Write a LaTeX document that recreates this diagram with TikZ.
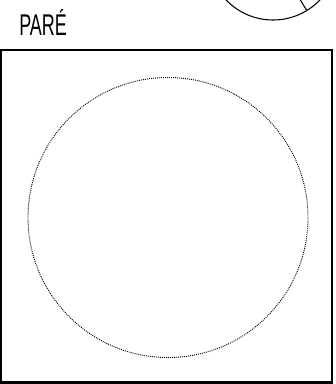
\documentclass[tikz,border=0pt]{standalone}
\usepackage{fontspec}
\newfontfamily\parefont[FakeStretch=0.6]{Liberation Sans}
\usetikzlibrary{positioning}

\begin{document}
\begin{tikzpicture}[x=0.75pt,y=-0.75pt,
    frameline/.style={line width=1.6pt,black},
    dotline/.style={line width=0.7pt,dash pattern=on 0.7pt off 0.8pt}]
      \useasboundingbox (0,0) rectangle (335,384);
      \begin{scope}
        \clip (0,0) rectangle (335,384);
        \coordinate (hub) at (273,-45);
        \draw[line width=0.8pt] (hub) circle[radius=65*0.75pt];
        \draw[line width=0.8pt] (hub) -- ++(58.7:65);
      \end{scope}
      \node[inner sep=0pt,anchor=base west,font=\parefont\fontsize{22.5pt}{24pt}\selectfont]
        (pare) at (19,35.5) {PARÉ};
      \draw[frameline] (1,50) rectangle (332.3,382.5);
      \coordinate (mid) at (168,217.5);
      \draw[dotline] (mid) circle[radius=140*0.75pt];
    \end{tikzpicture}
\end{document}
